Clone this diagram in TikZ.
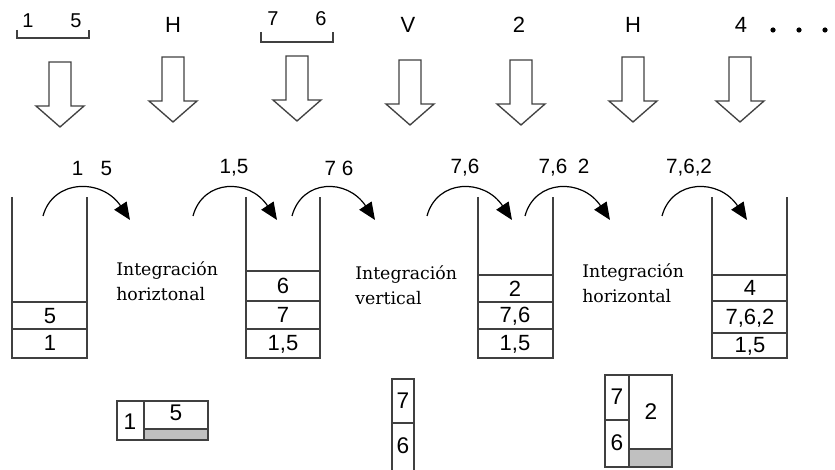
\documentclass[tikz,border=0pt]{standalone}
\usepackage{fontspec}
\setsansfont{Liberation Sans}
\newfontfamily\textface{DejaVu Serif}
\usepackage{tikz}
\usetikzlibrary{arrows.meta}
\definecolor{Ink}{HTML}{404040}
\definecolor{Shade}{HTML}{C0C0C0}

\tikzset{
  num/.style={font=\sffamily\fontsize{16.5}{17}\selectfont, inner sep=0pt},
  small/.style={font=\sffamily\fontsize{15.5}{16}\selectfont, inner sep=0pt},
  pair/.style={font=\sffamily\fontsize{15}{16}\selectfont, inner sep=0pt},
  big/.style={font=\sffamily\fontsize{16.5}{17}\selectfont, inner sep=0pt},
  cell/.style={font=\sffamily\fontsize{17}{18}\selectfont, inner sep=0pt},
  note/.style={font=\textface\fontsize{13}{19}\selectfont, align=left, anchor=west, inner sep=0pt},
  wall/.style={draw=Ink, line width=1pt},
  push/.style={-{Triangle[length=13pt,width=11pt]}, line width=0.9pt},
  bigdown/.pic={\draw[draw=Ink, line width=1pt] (-11,0) -- (-11,44) -- (-24,44) -- (0,65) -- (24,44) -- (11,44) -- (11,0) -- cycle;},
}

\begin{document}
\begin{tikzpicture}[x=0.75pt,y=-0.75pt]
  \useasboundingbox (0,0) rectangle (835,470);

  % input sequence
  \node[pair] (in1) at (28,21) {1};
  \node[pair] (in5) at (76,21) {5};
  \draw[wall] (17,30) |- (89,38) -- (89,30);
  \node[big] (h1) at (173,25) {H};
  \node[pair] (in7) at (273,19) {7};
  \node[pair] (in6) at (321,19) {6};
  \draw[wall] (261,32) |- (333,42) -- (333,32);
  \node[big] (v1) at (408,25) {V};
  \node[big] (in2) at (519,25) {2};
  \node[big] (h2) at (633,25) {H};
  \node[big] (in4) at (741,25) {4};
  \foreach \x in {773,799,825} \fill (\x,30) circle (2.6);

  % read arrows
  \foreach \x/\y in {60/62,173/57,297/56,410/60,521/60,633/57,740/57}
    \pic at (\x,\y) {bigdown};

  % stacks
  \draw[wall] (12,197) |- (87,358) -- (87,197);
  \foreach \y in {302,329} \draw[wall] (12,\y) -- (87,\y);
  \node[num] (s1b) at (50,316) {5};
  \node[num] (s1a) at (50,343) {1};

  \draw[wall] (246,197) |- (320,358) -- (320,197);
  \foreach \y in {271,301,329} \draw[wall] (246,\y) -- (320,\y);
  \node[num] (s2c) at (283,286) {6};
  \node[num] (s2b) at (283,315) {7};
  \node[num] (s2a) at (283,344) {1,5};

  \draw[wall] (478,197) |- (553,358) -- (553,197);
  \foreach \y in {275,302,329} \draw[wall] (478,\y) -- (553,\y);
  \node[num] (s3c) at (515,289) {2};
  \node[num] (s3b) at (515,316) {7,6};
  \node[num] (s3a) at (515,344) {1,5};

  \draw[wall] (712,197) |- (787,358) -- (787,197);
  \foreach \y in {275,301,333} \draw[wall] (712,\y) -- (787,\y);
  \node[num] (s4c) at (750,288) {4};
  \node[num] (s4b) at (750,318) {7,6,2};
  \node[num] (s4a) at (750,346) {1,5};

  % pushes onto the stacks
  \foreach \i/\a/\b in {1/43/130,2/193/277,3/292/375,4/427/512,5/525/610,6/662/747}{
    \coordinate (p\i s) at (\a,216);
    \coordinate (p\i e) at (\b,220);
    \draw[push] (p\i s) .. controls +(10,-37) and +(-28,-42) .. (p\i e);
  }
  \node[small] (t1) at (92,168) {1\hspace{13pt}5};
  \node[small] (t2) at (234,168) {1,5};
  \node[small] (t3) at (339,168) {7 6};
  \node[small] (t4) at (465,168) {7,6};
  \node[small] (t5) at (564,168) {7,6\hspace{8pt}2};
  \node[small] (t6) at (689,168) {7,6,2};

  \node[note] (ih1) at (116,281) {Integración\\horiztonal};
  \node[note] (iv)  at (355,285) {Integración\\vertical};
  \node[note] (ih2) at (582,283) {Integración\\horizontal};

  % resulting layouts
  \fill[Shade] (144,429) rectangle (208,440);
  \draw[wall] (117,401) rectangle (208,440);
  \draw[wall] (144,401) -- (144,440) (144,429) -- (208,429);
  \node[cell] (b1a) at (130,422) {1};
  \node[cell] (b1b) at (176,413) {5};

  \draw[wall] (392,471) |- (414,379) -- (414,471);
  \draw[wall] (392,423) -- (414,423);
  \node[cell] (b2a) at (403,401) {7};
  \node[cell] (b2b) at (403,446) {6};

  \fill[Shade] (629,449) rectangle (672,467);
  \draw[wall] (605,375) rectangle (672,467);
  \draw[wall] (629,375) -- (629,467) (605,420) -- (629,420) (629,449) -- (672,449);
  \node[cell] (b3a) at (617,397) {7};
  \node[cell] (b3b) at (617,443) {6};
  \node[cell] (b3c) at (651,412) {2};
\end{tikzpicture}
\end{document}
